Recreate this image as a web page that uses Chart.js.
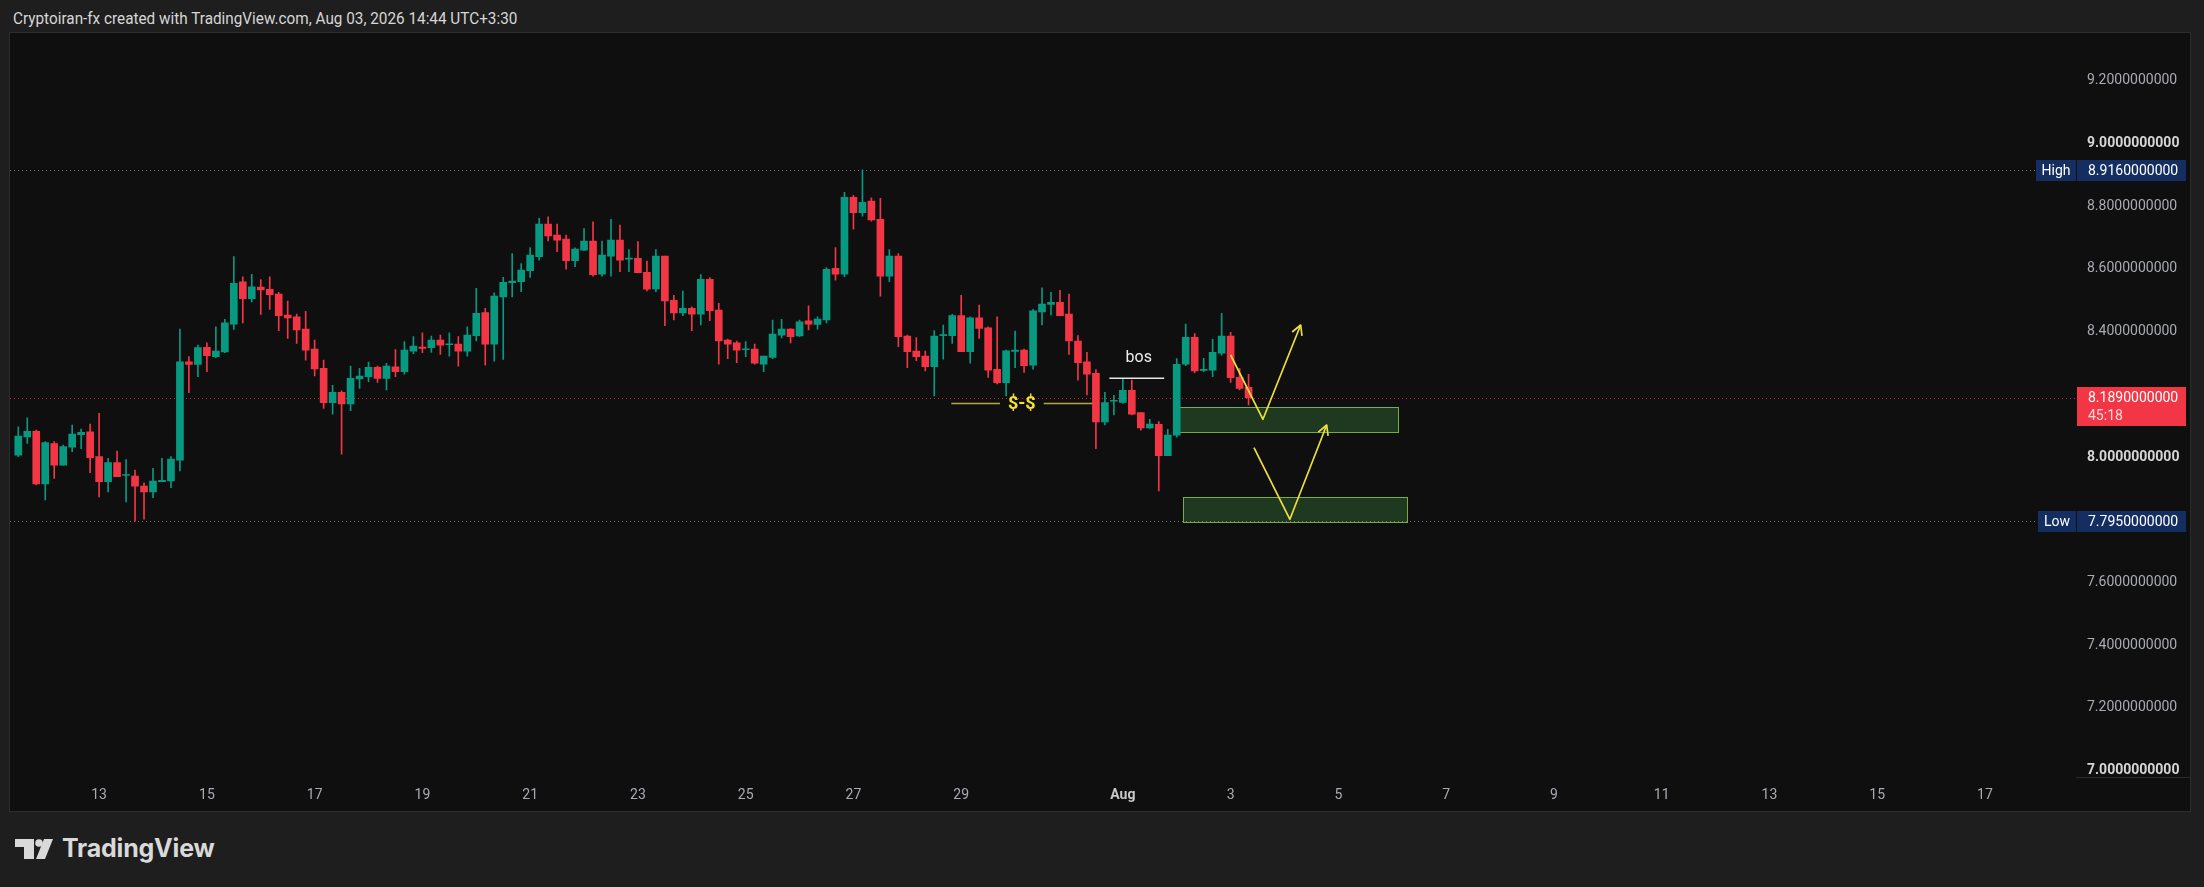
<!DOCTYPE html>
<html lang="en">
<head>
<meta charset="UTF-8" />
<title>Cryptoiran-fx 4h chart</title>
<script src="https://cdn.jsdelivr.net/npm/chart.js"></script>
<style>
  html, body {
    margin: 0;
    padding: 0;
    width: 2204px;
    height: 887px;
    overflow: hidden;
    background: #1e1e1e;
    font-family: Roboto, "Noto Sans", sans-serif;
  }
  #header {
    position: absolute;
    left: 13px;
    top: 9px;
    color: #d6d6d6;
    font-size: 16px;
    white-space: nowrap;
    transform-origin: left top;
  }
  #panel {
    position: absolute;
    left: 10px;
    top: 33px;
    width: 2180px;
    height: 778px;
    background: #0f0f0f;
    box-shadow: 0 0 0 1px #2c2c2c;
  }
  #logo {
    position: absolute;
    left: 0;
    top: 830px;
    width: 260px;
    height: 40px;
  }
  #logo span {
    position: absolute;
    left: 62px;
    top: 3px;
    font-family: Inter, Lato, sans-serif;
    font-weight: 700;
    font-size: 25px;
    color: #d9d9d9;
    letter-spacing: -0.2px;
  }
</style>
</head>
<body>
<div id="header">Cryptoiran-fx created with TradingView.com, Aug 03, 2026 14:44 UTC+3:30</div>
<div id="panel"><canvas id="chart" width="2180" height="778"></canvas></div>
<div id="logo">
  <svg width="60" height="40" viewBox="0 830 60 40" style="position:absolute;left:0;top:0">
    <path d="M15 839 H34 V859 H24 V847 H15 Z" fill="#d9d9d9" />
    <circle cx="39" cy="843" r="3.8" fill="#d9d9d9" />
    <path d="M44 839 H53 L45 859 H36 Z" fill="#d9d9d9" />
  </svg>
  <span>TradingView</span>
</div>
<script>
// 4h candles, first bar Jul 11 15:30, last bar Aug 3 11:30 (UTC+3:30)
const opens = [
  8.006, 8.064, 8.082, 7.914, 8.043, 7.974, 8.031, 8.071, 8.080, 8.001,
  7.921, 7.982, 7.941, 7.939, 7.907, 7.889, 7.921, 7.924, 7.990, 8.304,
  8.295, 8.350, 8.320, 8.335, 8.424, 8.559, 8.505, 8.542, 8.535, 8.520,
  8.453, 8.447, 8.408, 8.344, 8.283, 8.173, 8.206, 8.169, 8.249, 8.256,
  8.286, 8.251, 8.288, 8.272, 8.338, 8.351, 8.349, 8.373, 8.358, 8.360,
  8.338, 8.387, 8.461, 8.360, 8.511, 8.556, 8.559, 8.594, 8.639, 8.743,
  8.708, 8.695, 8.626, 8.660, 8.689, 8.583, 8.641, 8.692, 8.631, 8.634,
  8.589, 8.536, 8.641, 8.500, 8.460, 8.474, 8.456, 8.567, 8.469, 8.373,
  8.364, 8.342, 8.344, 8.296, 8.318, 8.389, 8.408, 8.386, 8.434, 8.423,
  8.437, 8.602, 8.583, 8.828, 8.779, 8.816, 8.758, 8.577, 8.641, 8.386,
  8.338, 8.322, 8.288, 8.387, 8.387, 8.451, 8.336, 8.444, 8.412, 8.280,
  8.237, 8.337, 8.341, 8.293, 8.463, 8.487, 8.493, 8.456, 8.370, 8.304,
  8.267, 8.112, 8.178, 8.174, 8.213, 8.142, 8.093, 8.104, 8.004, 8.070,
  8.296, 8.382, 8.276, 8.277, 8.331, 8.386, 8.254, 8.222
];
const highs = [
  8.096, 8.125, 8.086, 8.049, 8.049, 8.038, 8.102, 8.089, 8.105, 8.139,
  7.996, 8.019, 7.992, 7.958, 7.918, 7.964, 7.996, 8.001, 8.408, 8.320,
  8.357, 8.364, 8.415, 8.439, 8.639, 8.575, 8.583, 8.566, 8.575, 8.525,
  8.497, 8.456, 8.465, 8.373, 8.309, 8.229, 8.211, 8.290, 8.283, 8.303,
  8.290, 8.299, 8.343, 8.368, 8.384, 8.396, 8.386, 8.389, 8.396, 8.384,
  8.415, 8.538, 8.474, 8.524, 8.573, 8.649, 8.617, 8.668, 8.761, 8.766,
  8.743, 8.708, 8.667, 8.729, 8.750, 8.689, 8.758, 8.740, 8.662, 8.687,
  8.625, 8.662, 8.641, 8.516, 8.529, 8.479, 8.582, 8.572, 8.490, 8.376,
  8.370, 8.368, 8.360, 8.322, 8.437, 8.439, 8.410, 8.437, 8.482, 8.447,
  8.604, 8.668, 8.844, 8.835, 8.916, 8.827, 8.825, 8.662, 8.649, 8.389,
  8.381, 8.338, 8.403, 8.421, 8.455, 8.516, 8.447, 8.485, 8.415, 8.447,
  8.341, 8.402, 8.344, 8.471, 8.540, 8.525, 8.532, 8.520, 8.387, 8.334,
  8.279, 8.206, 8.197, 8.249, 8.245, 8.142, 8.120, 8.113, 8.088, 8.314,
  8.424, 8.394, 8.315, 8.375, 8.458, 8.398, 8.283, 8.264
];
const lows = [
  8.001, 8.043, 7.911, 7.863, 7.932, 7.974, 8.017, 8.027, 7.950, 7.873,
  7.889, 7.937, 7.857, 7.795, 7.802, 7.870, 7.921, 7.902, 7.956, 8.205,
  8.256, 8.272, 8.317, 8.333, 8.407, 8.428, 8.495, 8.455, 8.471, 8.403,
  8.378, 8.362, 8.309, 8.259, 8.155, 8.137, 8.009, 8.148, 8.219, 8.240,
  8.238, 8.214, 8.256, 8.264, 8.330, 8.333, 8.334, 8.327, 8.322, 8.290,
  8.322, 8.370, 8.293, 8.306, 8.311, 8.511, 8.527, 8.573, 8.628, 8.689,
  8.655, 8.599, 8.607, 8.658, 8.577, 8.577, 8.577, 8.591, 8.591, 8.588,
  8.530, 8.527, 8.419, 8.437, 8.451, 8.403, 8.421, 8.435, 8.296, 8.314,
  8.301, 8.320, 8.296, 8.272, 8.314, 8.380, 8.364, 8.384, 8.405, 8.408,
  8.428, 8.564, 8.575, 8.727, 8.768, 8.752, 8.513, 8.559, 8.352, 8.285,
  8.307, 8.275, 8.195, 8.312, 8.362, 8.336, 8.299, 8.378, 8.254, 8.233,
  8.195, 8.285, 8.270, 8.280, 8.421, 8.453, 8.451, 8.327, 8.245, 8.198,
  8.027, 8.102, 8.134, 8.171, 8.134, 8.086, 8.091, 7.892, 8.004, 8.063,
  8.291, 8.269, 8.272, 8.256, 8.325, 8.238, 8.214, 8.166
];
const closes = [
  8.067, 8.082, 7.914, 8.046, 7.974, 8.033, 8.073, 8.079, 7.998, 7.921,
  7.982, 7.937, 7.943, 7.907, 7.889, 7.923, 7.926, 7.993, 8.304, 8.295,
  8.349, 8.323, 8.338, 8.428, 8.554, 8.505, 8.543, 8.533, 8.518, 8.451,
  8.444, 8.405, 8.341, 8.281, 8.173, 8.206, 8.169, 8.251, 8.258, 8.286,
  8.251, 8.290, 8.272, 8.341, 8.354, 8.346, 8.373, 8.357, 8.360, 8.338,
  8.389, 8.458, 8.360, 8.513, 8.557, 8.561, 8.596, 8.644, 8.743, 8.705,
  8.692, 8.626, 8.663, 8.689, 8.582, 8.644, 8.692, 8.628, 8.634, 8.588,
  8.535, 8.641, 8.498, 8.460, 8.474, 8.456, 8.567, 8.467, 8.370, 8.360,
  8.341, 8.344, 8.299, 8.322, 8.392, 8.408, 8.384, 8.431, 8.424, 8.440,
  8.599, 8.583, 8.828, 8.779, 8.812, 8.756, 8.577, 8.641, 8.384, 8.336,
  8.320, 8.288, 8.386, 8.390, 8.451, 8.336, 8.444, 8.410, 8.277, 8.237,
  8.339, 8.341, 8.291, 8.466, 8.488, 8.493, 8.451, 8.370, 8.301, 8.264,
  8.112, 8.174, 8.181, 8.213, 8.137, 8.093, 8.105, 8.004, 8.070, 8.296,
  8.382, 8.275, 8.280, 8.334, 8.386, 8.253, 8.219, 8.189
];

// price axis labels (8.2 and 7.8 sit under the price tags)
const priceTicks = [7.0, 7.2, 7.4, 7.6, 8.0, 8.4, 8.6, 8.8, 9.0, 9.2];
// day labels, counted in days from Jul 13
const dayOffsets = [0, 2, 4, 6, 8, 10, 12, 14, 16, 19, 21, 23, 25, 27, 29, 31, 33, 35];
const dayLabels = ["13", "15", "17", "19", "21", "23", "25", "27", "29", "Aug",
                   "3", "5", "7", "9", "11", "13", "15", "17"];
const firstBarJul13 = 9;
const barsPerDay = 6;
const countdown = "45:18";

// drawings: x in bar numbers, y in price
const zones = [
  { from: 129.1, to: 153.6, top: 8.1585, bottom: 8.0788 },
  { from: 129.7, to: 154.6, top: 7.8714, bottom: 7.7936 }
];
const liquidity = { from: 103.9, to: 119.6, price: 8.171, label: "$-$" };
const bos = { from: 121.5, to: 127.6, price: 8.251, label: "bos" };
const arrowPaths = [
  [[135.0, 8.3254], [138.6, 8.1203], [142.8, 8.4211]],
  [[137.6, 8.0297], [141.6, 7.8013], [145.7, 8.1021]]
];

const UP = "#089981";
const DOWN = "#f23645";
const FONT = "Roboto, 'Noto Sans', sans-serif";

// visible window of the pane: bars -0.92 .. 229.14, prices 6.9793 .. 9.3525
const X_MIN = -0.924, X_MAX = 229.14;
const Y_MIN = 6.9793, Y_MAX = 9.3525;
const PANE_W = 2066, PANE_H = 744;

const tickBars = dayOffsets.map(d => firstBarJul13 + d * barsPerDay);
const isUp = i => closes[i] >= opens[i];
const candleColor = c => (isUp(c.dataIndex) ? UP : DOWN);
const isRound = c => !!(c.tick && Number.isInteger(c.tick.value));
const isMonth = c => dayLabels[c.index] === "Aug";

const highest = Math.max(...highs);
const lowest = Math.min(...lows);
const lastClose = closes[closes.length - 1];

function hLine(ctx, x0, x1, y, color, dash) {
  ctx.save();
  ctx.strokeStyle = color;
  ctx.lineWidth = 1;
  ctx.setLineDash(dash || []);
  ctx.beginPath();
  ctx.moveTo(x0, Math.round(y) + 0.5);
  ctx.lineTo(x1, Math.round(y) + 0.5);
  ctx.stroke();
  ctx.restore();
}

function arrowHead(ctx, from, to) {
  const ang = Math.atan2(to[1] - from[1], to[0] - from[0]);
  const len = 11;
  ctx.beginPath();
  ctx.moveTo(to[0] - len * Math.cos(ang - 0.5), to[1] - len * Math.sin(ang - 0.5));
  ctx.lineTo(to[0], to[1]);
  ctx.lineTo(to[0] - len * Math.cos(ang + 0.5), to[1] - len * Math.sin(ang + 0.5));
  ctx.stroke();
}

// Chart.js may pad the pane for its labels; keep the price/bar scale
// anchored to the full pane so it lines up with the screenshot
const pinScales = {
  id: "pinScales",
  afterLayout(chart) {
    const { x, y } = chart.scales;
    const perBar = PANE_W / (X_MAX - X_MIN);
    x.min = X_MIN + x.left / perBar;
    x.max = X_MIN + x.right / perBar;
    x.configure();
    const perUnit = PANE_H / (Y_MAX - Y_MIN);
    y.max = Y_MAX - y.top / perUnit;
    y.min = Y_MAX - y.bottom / perUnit;
    y.configure();
  }
};

const tvDrawings = {
  id: "tvDrawings",
  beforeDatasetsDraw(chart) {
    const { ctx, chartArea, scales: { x, y } } = chart;
    ctx.save();
    zones.forEach(z => {
      const x0 = Math.round(x.getPixelForValue(z.from));
      const x1 = Math.round(x.getPixelForValue(z.to));
      const y0 = Math.round(y.getPixelForValue(z.top));
      const y1 = Math.round(y.getPixelForValue(z.bottom));
      ctx.fillStyle = "rgba(76, 175, 80, 0.27)";
      ctx.fillRect(x0, y0, x1 - x0, y1 - y0);
      ctx.strokeStyle = "rgba(139, 195, 74, 0.85)";
      ctx.lineWidth = 1;
      ctx.strokeRect(x0 + 0.5, y0 + 0.5, x1 - x0, y1 - y0);
    });
    hLine(ctx, chartArea.left, chartArea.right - 41, y.getPixelForValue(highest), "#70737c", [1, 3]);
    hLine(ctx, chartArea.left, chartArea.right - 39, y.getPixelForValue(lowest), "#70737c", [1, 3]);
    hLine(ctx, chartArea.left, chartArea.right, y.getPixelForValue(lastClose), "rgba(242, 54, 69, 0.8)", [1, 3]);
    ctx.restore();
  },
  afterDatasetsDraw(chart) {
    const { ctx, scales: { x, y } } = chart;
    ctx.save();

    // liquidity line with label in the gap
    const ly = y.getPixelForValue(liquidity.price);
    const lx0 = x.getPixelForValue(liquidity.from);
    const lx1 = x.getPixelForValue(liquidity.to);
    const mid = (lx0 + lx1) / 2;
    ctx.font = "bold 18px " + FONT;
    const tw = ctx.measureText(liquidity.label).width;
    ctx.strokeStyle = "rgba(236, 220, 70, 0.75)";
    ctx.lineWidth = 1.5;
    ctx.beginPath();
    ctx.moveTo(lx0, ly);
    ctx.lineTo(mid - tw / 2 - 8, ly);
    ctx.moveTo(mid + tw / 2 + 8, ly);
    ctx.lineTo(lx1, ly);
    ctx.stroke();
    ctx.fillStyle = "#f5e132";
    ctx.textAlign = "center";
    ctx.textBaseline = "middle";
    ctx.fillText(liquidity.label, mid, ly + 1);

    // break of structure
    const by = y.getPixelForValue(bos.price);
    const bx0 = x.getPixelForValue(bos.from);
    const bx1 = x.getPixelForValue(bos.to);
    ctx.strokeStyle = "#e8e8e8";
    ctx.lineWidth = 1.5;
    ctx.beginPath();
    ctx.moveTo(bx0, by);
    ctx.lineTo(bx1, by);
    ctx.stroke();
    ctx.fillStyle = "#eeeeee";
    ctx.font = "16px " + FONT;
    ctx.fillText(bos.label, (bx0 + bx1) / 2 + 2, by - 20);

    // projected paths
    ctx.strokeStyle = "#ecdf3c";
    ctx.lineWidth = 1.7;
    ctx.lineJoin = "round";
    arrowPaths.forEach(path => {
      const pts = path.map(p => [x.getPixelForValue(p[0]), y.getPixelForValue(p[1])]);
      ctx.beginPath();
      pts.forEach((p, i) => (i ? ctx.lineTo(p[0], p[1]) : ctx.moveTo(p[0], p[1])));
      ctx.stroke();
      arrowHead(ctx, pts[pts.length - 2], pts[pts.length - 1]);
    });
    ctx.restore();
  },
  afterDraw(chart) {
    const { ctx, chartArea, scales: { y } } = chart;
    const ax = chartArea.right + 1;
    const aw = 109;
    ctx.save();
    hLine(ctx, chartArea.right, chart.width, chartArea.bottom, "#2a2a2a");
    ctx.textBaseline = "middle";
    ctx.font = "14px " + FONT;

    const tag = (value, name, nameW) => {
      const py = Math.round(y.getPixelForValue(value));
      ctx.fillStyle = "#142e61";
      ctx.fillRect(ax - nameW - 1, py - 10, nameW, 21);
      ctx.fillRect(ax, py - 10, aw, 21);
      ctx.fillStyle = "#ffffff";
      ctx.textAlign = "center";
      ctx.fillText(name, ax - 1 - nameW / 2, py + 1);
      ctx.textAlign = "left";
      ctx.fillText(value.toFixed(10), ax + 11, py + 1);
    };
    tag(highest, "High", 40);
    tag(lowest, "Low", 38);

    const cy = Math.round(y.getPixelForValue(lastClose));
    ctx.fillStyle = DOWN;
    ctx.fillRect(ax, cy - 11, aw, 39);
    ctx.textAlign = "left";
    ctx.fillStyle = "#ffffff";
    ctx.fillText(lastClose.toFixed(10), ax + 11, cy);
    ctx.fillStyle = "rgba(255, 255, 255, 0.82)";
    ctx.fillText(countdown, ax + 11, cy + 18);
    ctx.restore();
  }
};

const ctx = document.getElementById("chart").getContext("2d");
new Chart(ctx, {
  type: "bar",
  data: {
    datasets: [
      {
        label: "wick",
        data: highs.map((h, i) => ({ x: i, y: [lows[i], h] })),
        backgroundColor: candleColor,
        barThickness: 1,
        grouped: false,
        borderWidth: 0
      },
      {
        label: "body",
        data: opens.map((o, i) => ({ x: i, y: [o, closes[i]] })),
        backgroundColor: candleColor,
        barThickness: 7,
        minBarLength: 1,
        grouped: false,
        borderWidth: 0
      }
    ]
  },
  options: {
    responsive: false,
    animation: false,
    devicePixelRatio: 1,
    layout: { padding: 0 },
    plugins: {
      legend: { display: false },
      tooltip: { enabled: false }
    },
    scales: {
      x: {
        type: "linear",
        offset: false,
        min: X_MIN,
        max: X_MAX,
        grid: { display: false, drawTicks: false },
        border: { display: false },
        afterBuildTicks: s => { s.ticks = tickBars.map(v => ({ value: v })); },
        afterFit: s => { s.height = 34; },
        ticks: {
          autoSkip: false,
          maxRotation: 0,
          padding: 10,
          color: c => (isMonth(c) ? "#c8c8c8" : "#a9abb3"),
          font: c => ({ family: FONT, size: 14, weight: isMonth(c) ? "bold" : "normal" }),
          callback: (v, i) => dayLabels[i]
        }
      },
      y: {
        type: "linear",
        position: "right",
        min: Y_MIN,
        max: Y_MAX,
        // transparent tick marks only push the labels 11px off the pane
        grid: { display: true, drawOnChartArea: false, drawTicks: true, tickLength: 11, color: "transparent" },
        border: { display: false },
        afterBuildTicks: s => { s.ticks = priceTicks.map(v => ({ value: v })); },
        afterFit: s => { s.width = 114; },
        ticks: {
          autoSkip: false,
          padding: 0,
          color: c => (isRound(c) ? "#d6d6d6" : "#a9abb3"),
          font: c => ({ family: FONT, size: 14, weight: isRound(c) ? "bold" : "normal" }),
          callback: v => Number(v).toFixed(10)
        }
      }
    }
  },
  plugins: [pinScales, tvDrawings]
});

// the snapshot header uses a narrow face; fit it to the same width
const header = document.getElementById("header");
header.style.transform = "scaleX(" + (504 / header.scrollWidth) + ")";
</script>
</body>
</html>
